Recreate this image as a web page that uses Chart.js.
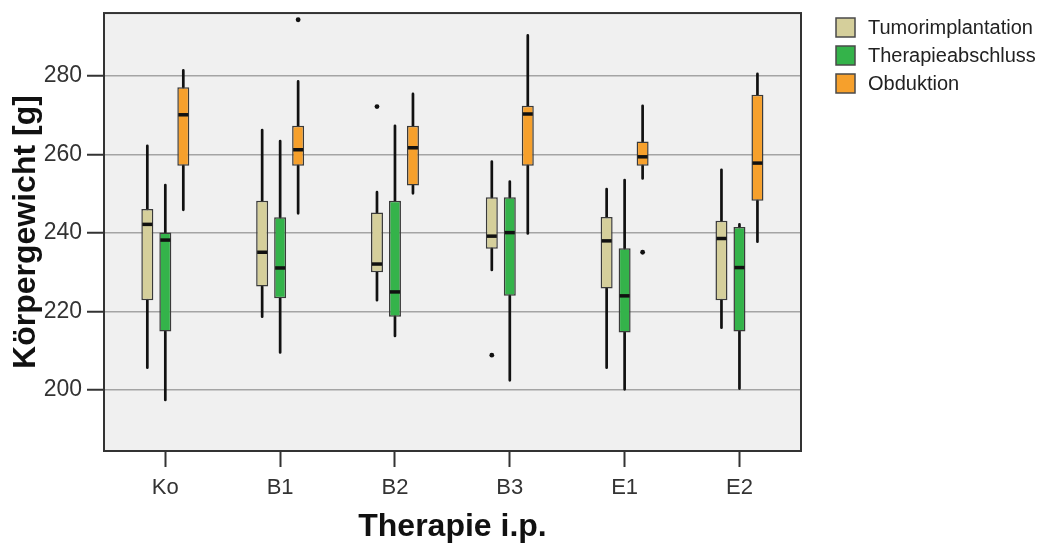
<!DOCTYPE html>
<html>
<head>
<meta charset="utf-8">
<script src="https://cdn.jsdelivr.net/npm/chart.js@4.4.1/dist/chart.umd.min.js"></script>
<style>
  body { margin: 0; background: #fff; }
  #wrap { width: 1051px; height: 544px; }
</style>
</head>
<body>
<div id="wrap"><canvas id="koerpergewicht-chart-id"></canvas></div>
<script>
// categories and tick labels
const categories = ['Ko', 'B1', 'B2', 'B3', 'E1', 'E2'];
const yTicks = [200, 220, 240, 260, 280];
const seriesNames = ['Tumorimplantation', 'Therapieabschluss', 'Obduktion'];

// Tumorimplantation
const tumorMin = [205.7, 218.7, 222.9, 230.6, 205.7, 215.9];
const tumorQ1  = [222.9, 226.4, 230.0, 236.0, 225.9, 222.9];
const tumorMed = [242.2, 235.1, 232.1, 239.2, 238.0, 238.6];
const tumorQ3  = [246.1, 248.2, 245.2, 249.1, 244.1, 243.1];
const tumorMax = [262.2, 266.2, 250.4, 258.2, 251.2, 256.1];
const tumorOut = [[], [], [272.2], [208.9], [], []];

// Therapieabschluss
const therMin = [197.5, 209.6, 213.8, 202.5, 200.2, 200.4];
const therQ1  = [214.9, 223.4, 218.7, 224.0, 214.7, 214.9];
const therMed = [238.2, 231.1, 225.0, 240.1, 224.0, 231.2];
const therQ3  = [240.1, 244.0, 248.2, 249.1, 236.1, 241.5];
const therMax = [252.2, 263.4, 267.3, 253.1, 253.5, 242.2];
const therOut = [[], [], [], [], [], []];

// Obduktion
const obdMin = [245.9, 245.0, 250.1, 239.9, 253.9, 237.8];
const obdQ1  = [257.1, 257.1, 252.1, 257.1, 257.1, 248.2];
const obdMed = [270.1, 261.2, 261.7, 270.3, 259.4, 257.8];
const obdQ3  = [277.1, 267.3, 267.3, 272.4, 263.3, 275.2];
const obdMax = [281.4, 278.6, 275.4, 290.3, 272.4, 280.5];
const obdOut = [[], [294.3], [], [], [235.1], []];

const boxColors = ['#d5cf9b', '#34b34a', '#f6a02c'];

const stats = [
  { min: tumorMin, q1: tumorQ1, med: tumorMed, q3: tumorQ3, max: tumorMax, out: tumorOut },
  { min: therMin, q1: therQ1, med: therMed, q3: therQ3, max: therMax, out: therOut },
  { min: obdMin, q1: obdQ1, med: obdMed, q3: obdQ3, max: obdMax, out: obdOut }
];

const FONT = '"Liberation Sans", Arial, sans-serif';

// plot background + frame
const frame = {
  id: 'frame',
  beforeDraw(chart) {
    const { ctx, chartArea: a } = chart;
    ctx.save();
    ctx.fillStyle = '#f0f0f0';
    ctx.fillRect(a.left, a.top, a.right - a.left, a.bottom - a.top);
    ctx.restore();
  },
  afterDraw(chart) {
    const { ctx, chartArea: a } = chart;
    ctx.save();
    ctx.strokeStyle = '#333';
    ctx.lineWidth = 2;
    ctx.strokeRect(a.left, a.top, a.right - a.left, a.bottom - a.top);
    ctx.restore();
  }
};

// whiskers, medians and outliers around the floating bars
const boxExtras = {
  id: 'boxExtras',
  beforeDatasetsDraw(chart) {
    const { ctx, scales: { y } } = chart;
    ctx.save();
    ctx.strokeStyle = '#111';
    ctx.lineWidth = 2.7;
    ctx.lineCap = 'round';
    stats.forEach((s, di) => {
      chart.getDatasetMeta(di).data.forEach((bar, i) => {
        ctx.beginPath();
        ctx.moveTo(bar.x, y.getPixelForValue(s.max[i]));
        ctx.lineTo(bar.x, y.getPixelForValue(s.q3[i]));
        ctx.moveTo(bar.x, y.getPixelForValue(s.q1[i]));
        ctx.lineTo(bar.x, y.getPixelForValue(s.min[i]));
        ctx.stroke();
      });
    });
    ctx.restore();
  },
  afterDatasetsDraw(chart) {
    const { ctx, scales: { y } } = chart;
    ctx.save();
    stats.forEach((s, di) => {
      chart.getDatasetMeta(di).data.forEach((bar, i) => {
        const half = bar.width / 2;
        const py = y.getPixelForValue(s.med[i]);
        ctx.strokeStyle = '#111';
        ctx.lineWidth = 3.5;
        ctx.beginPath();
        ctx.moveTo(bar.x - half + 1, py);
        ctx.lineTo(bar.x + half - 1, py);
        ctx.stroke();
        ctx.fillStyle = '#111';
        s.out[i].forEach(v => {
          ctx.beginPath();
          ctx.arc(bar.x, y.getPixelForValue(v), 2.4, 0, Math.PI * 2);
          ctx.fill();
        });
      });
    });
    ctx.restore();
  }
};

// legend drawn to the right of the frame
const sideLegend = {
  id: 'sideLegend',
  afterDraw(chart) {
    const { ctx, chartArea: a } = chart;
    ctx.save();
    ctx.font = '20px ' + FONT;
    ctx.textBaseline = 'middle';
    ctx.textAlign = 'left';
    seriesNames.forEach((name, i) => {
      const x = a.right + 35;
      const top = 18 + i * 28;
      ctx.fillStyle = boxColors[i];
      ctx.fillRect(x, top, 19, 19);
      ctx.strokeStyle = '#4a4a4a';
      ctx.lineWidth = 1.5;
      ctx.strokeRect(x, top, 19, 19);
      ctx.fillStyle = '#222';
      ctx.fillText(name, x + 32, top + 10);
    });
    ctx.restore();
  }
};

const ctx = document.getElementById('koerpergewicht-chart-id');
new Chart(ctx, {
  type: 'bar',
  data: {
    labels: categories,
    datasets: stats.map((s, di) => ({
      label: seriesNames[di],
      data: s.q1.map((v, i) => [v, s.q3[i]]),
      backgroundColor: boxColors[di],
      borderColor: '#3a3a3a',
      borderWidth: 1.5,
      borderSkipped: false,
      categoryPercentage: 0.47,
      barPercentage: 0.667
    }))
  },
  options: {
    responsive: true,
    maintainAspectRatio: false,
    animation: false,
    layout: { padding: { top: 13, right: 250, left: 0, bottom: 0 } },
    plugins: {
      legend: { display: false },
      tooltip: { enabled: false }
    },
    scales: {
      x: {
        // SPSS leaves a bit more room at both ends than half a category
        afterBuildTicks(axis) { axis._startValue = -0.534; axis._valueRange = 6.07; },
        grid: { drawOnChartArea: false, offset: false, tickLength: 16, tickColor: '#333', tickWidth: 2 },
        border: { display: false },
        ticks: { color: '#333', font: { family: FONT, size: 22 }, padding: 8 },
        title: {
          display: true,
          text: 'Therapie i.p.',
          color: '#111',
          font: { family: FONT, size: 32, weight: 'bold', lineHeight: 1 },
          padding: { top: 0, bottom: 1 }
        },
        afterFit(scale) { scale.height = 93; }
      },
      y: {
        min: 184.5,
        max: 296,
        afterBuildTicks(axis) { axis.ticks = yTicks.map(v => ({ value: v })); },
        grid: { color: '#a4a4a4', lineWidth: 1.5, tickLength: 17, tickColor: '#333', tickWidth: 2 },
        border: { display: false },
        ticks: { color: '#333', font: { family: FONT, size: 23, lineHeight: 0.7 }, padding: 5 },
        title: {
          display: true,
          text: 'Körpergewicht [g]',
          color: '#111',
          font: { family: FONT, size: 32, weight: 'bold', lineHeight: 1 },
          padding: { top: 10, bottom: 0 }
        },
        afterFit(scale) { scale.width = 104; }
      }
    }
  },
  plugins: [frame, boxExtras, sideLegend]
});
</script>
</body>
</html>
